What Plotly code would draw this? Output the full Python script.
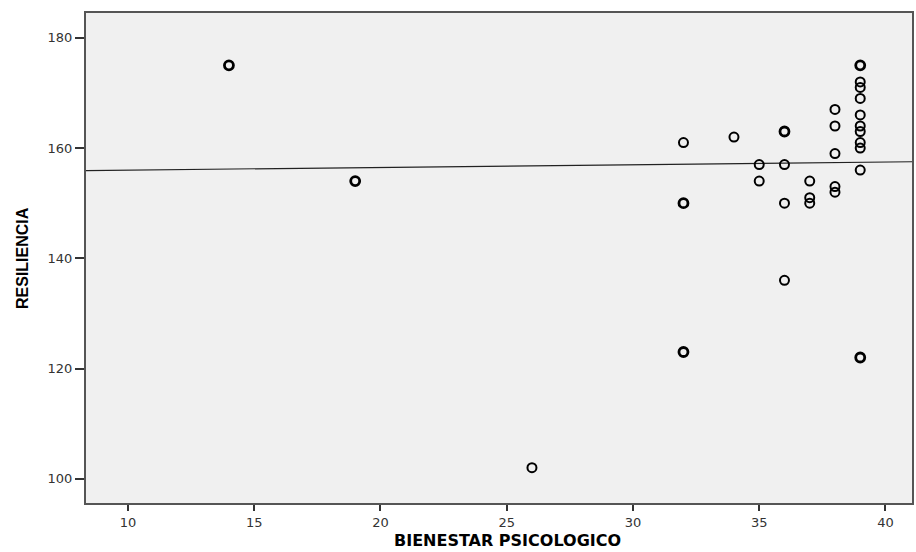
import plotly.graph_objects as go

# Bienestar psicológico (x) vs. resiliencia (y); "casos" = coincident cases
bienestar = [14, 19, 26, 32, 32, 32, 34, 35, 35, 36, 36, 36, 36, 37, 37, 37,
             38, 38, 38, 38, 38, 39, 39, 39, 39, 39, 39, 39, 39, 39, 39, 39]
resiliencia = [175, 154, 102, 161, 150, 123, 162, 157, 154, 163, 157, 150, 136, 154, 151, 150,
               167, 164, 159, 153, 152, 175, 172, 171, 169, 166, 164, 163, 161, 160, 156, 122]
casos = [2, 2, 1, 1, 2, 2, 1, 1, 1, 2, 1, 1, 1, 1, 1, 1,
         1, 1, 1, 1, 1, 2, 1, 1, 1, 1, 1, 1, 1, 1, 1, 2]

# Linear fit (total sample)
intercepto = 155.5
pendiente = 0.049

x_range = [8.34, 41.05]
y_range = [95.6, 184.5]
x_ticks = [10, 15, 20, 25, 30, 35, 40]
y_ticks = [100, 120, 140, 160, 180]

fit_x = x_range
fit_y = [intercepto + pendiente * v for v in fit_x]

fig = go.Figure()
fig.add_trace(go.Scatter(
    x=fit_x, y=fit_y, mode="lines",
    line=dict(color="#222222", width=1.2),
    hoverinfo="skip", showlegend=False,
))
fig.add_trace(go.Scatter(
    x=bienestar, y=resiliencia, mode="markers",
    marker=dict(symbol="circle-open", size=9, color="black",
                line=dict(color="black", width=[2 if c == 1 else 2.8 for c in casos])),
    showlegend=False,
))

tick_font = dict(family="DejaVu Sans", size=13, color="#333333")
axis_common = dict(
    showgrid=False, zeroline=False, automargin=False,
    showline=True, linecolor="#555555", linewidth=2, mirror=True,
    ticks="outside", tickwidth=2, tickcolor="#333333",
    tickfont=tick_font,
)

fig.update_layout(
    width=916, height=552,
    margin=dict(l=86, r=4, t=13, b=49),
    paper_bgcolor="white", plot_bgcolor="#f0f0f0",
    xaxis=dict(range=x_range, tickvals=x_ticks, ticklen=6, **axis_common),
    yaxis=dict(range=y_range, tickvals=y_ticks, ticklen=9, **axis_common),
    annotations=[
        dict(text="<b>BIENESTAR PSICOLOGICO</b>", xref="paper", yref="paper",
             x=0.5, y=0, xanchor="center", yanchor="middle", xshift=8, yshift=-37,
             borderpad=0, showarrow=False,
             font=dict(family="DejaVu Sans", size=16, color="black")),
        dict(text="<b>RESILIENCIA</b>", xref="paper", yref="paper", textangle=-90,
             x=0, y=0.5, xanchor="center", yanchor="middle", xshift=-64,
             showarrow=False, font=dict(family="Liberation Sans, Arial", size=16, color="black")),
    ],
)

fig.write_html("out.html")
